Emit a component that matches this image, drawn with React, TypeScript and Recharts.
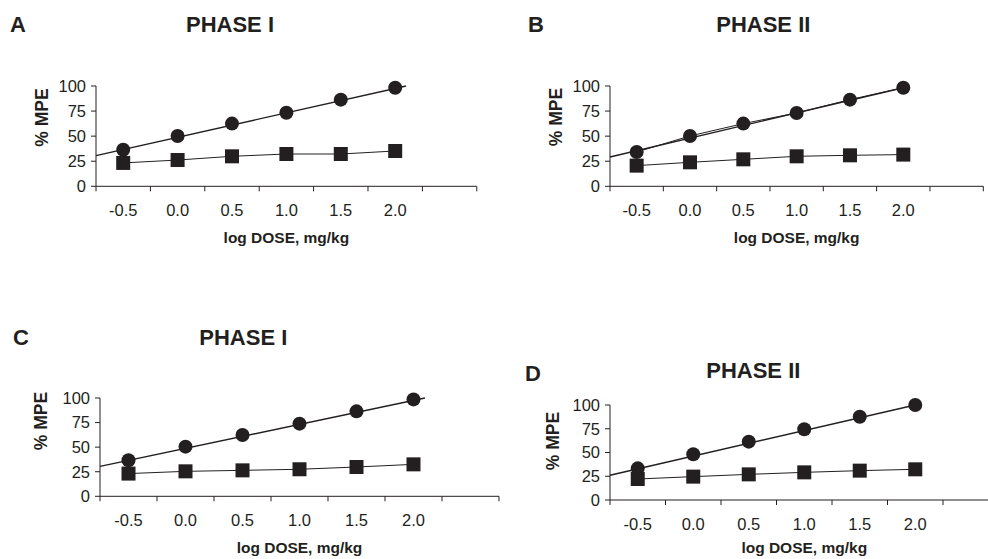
import React from 'react';
import { ComposedChart, Line, XAxis, YAxis } from 'recharts';

// ---- data ----
const doseLevels = [-0.5, 0.0, 0.5, 1.0, 1.5, 2.0];
const tickBounds = [-0.75, -0.25, 0.25, 0.75, 1.25, 1.75, 2.25, 2.75];
const mpeTicks = [0, 25, 50, 75, 100];

const panelLetters = ['A', 'B', 'C', 'D'];
const panelTitles = ['PHASE I', 'PHASE II', 'PHASE I', 'PHASE II'];

const circlesA = [36.5, 50.2, 62.5, 73.4, 86.4, 98.3];
const squaresA = [23.3, 26.2, 29.9, 32.2, 32.2, 35.2];
const fitXA = [-0.75, 2.1];
const fitYA = [30.6, 100];

const circlesB = [34.2, 50.2, 62.5, 73.1, 86.4, 98.3];
const squaresB = [20.6, 23.9, 26.9, 29.9, 30.9, 31.6];
const fitXB = [-0.75, 2.0];
const fitYB = [29.2, 98.3];

const circlesC = [36.6, 50.5, 62.4, 73.9, 86.4, 98.6];
const squaresC = [23.1, 25.4, 26.4, 27.5, 29.8, 32.5];
const fitXC = [-0.75, 2.1];
const fitYC = [30.5, 100];

const circlesD = [33.3, 48.1, 61.4, 74.4, 87.7, 100];
const squaresD = [22.1, 24.6, 27.0, 29.1, 30.9, 32.3];
const fitXD = [-0.75, 2.0];
const fitYD = [26.0, 100];

// ---- styling ----
const FONT = '"Liberation Sans", Arial, Helvetica, sans-serif';
const INK = '#231f20';

const xTickValues = [...tickBounds, ...doseLevels].sort((a, b) => a - b);

const toPoints = (xs: number[], ys: number[]) => xs.map((x, i) => ({ x, y: ys[i] }));

const XTick = (props: any) => {
  const { x, y, payload } = props;
  const v = payload.value as number;
  const isLabel = doseLevels.some((d) => Math.abs(d - v) < 1e-9);
  if (isLabel) {
    return (
      <text x={x} y={y + 29.5} textAnchor="middle" fontSize={16.5} fill={INK} fontFamily={FONT}>
        {v.toFixed(1)}
      </text>
    );
  }
  return <line x1={x} x2={x} y1={y} y2={y + 5} stroke={INK} strokeWidth={1} />;
};

const CircleDot = (p: any) =>
  p.cx == null ? null : <circle key={`c${p.index}`} cx={p.cx} cy={p.cy} r={7} fill={INK} />;
const SquareDot = (p: any) =>
  p.cx == null ? null : (
    <rect key={`s${p.index}`} x={p.cx - 7} y={p.cy - 7} width={14} height={14} fill={INK} />
  );

type Layout = { plotLeft: number; plotRight: number; plotTop: number; plotBottom: number; titleGap: number };

const layouts: Layout[] = [
  { plotLeft: 96, plotRight: 476.8, plotTop: 85.7, plotBottom: 186, titleGap: 57 },
  { plotLeft: 610, plotRight: 983.3, plotTop: 85.7, plotBottom: 186, titleGap: 57 },
  { plotLeft: 100, plotRight: 499, plotTop: 397.7, plotBottom: 496, titleGap: 57 },
  { plotLeft: 610, plotRight: 998.5, plotTop: 405, plotBottom: 500, titleGap: 53 },
];

const seriesSets = [
  { circles: circlesA, squares: squaresA, fx: fitXA, fy: fitYA, join: false },
  { circles: circlesB, squares: squaresB, fx: fitXB, fy: fitYB, join: true },
  { circles: circlesC, squares: squaresC, fx: fitXC, fy: fitYC, join: false },
  { circles: circlesD, squares: squaresD, fx: fitXD, fy: fitYD, join: false },
];

// text placements (layout only)
const letterPos = [
  { x: 10, y: 31.7 },
  { x: 528, y: 31.7 },
  { x: 13, y: 345 },
  { x: 525, y: 381 },
];
const titlePos = [
  { x: 230, y: 31.7 },
  { x: 763.3, y: 31.7 },
  { x: 243.3, y: 345 },
  { x: 753.3, y: 378 },
];
const yLabelPos = [
  { x: 41.7, y: 117.5 },
  { x: 555.5, y: 117 },
  { x: 41, y: 421 },
  { x: 552.5, y: 441 },
];

function Panel({ layout, set }: { layout: Layout; set: (typeof seriesSets)[number] }) {
  const yW = 60;
  const mt = 10;
  const mr = 2;
  const mb = 8;
  const W = layout.plotRight - layout.plotLeft + yW + mr;
  const H = mt + (layout.plotBottom - layout.plotTop) + layout.titleGap + mb;
  const fitData = toPoints(set.fx, set.fy);
  const circleData = toPoints(doseLevels, set.circles);
  const squareData = toPoints(doseLevels, set.squares);
  return (
    <div style={{ position: 'absolute', left: layout.plotLeft - yW, top: layout.plotTop - mt }}>
      <ComposedChart width={W} height={H} margin={{ top: mt, right: mr, bottom: mb, left: 0 }}>
        <XAxis
          type="number"
          dataKey="x"
          domain={[-0.75, 2.75]}
          ticks={xTickValues}
          interval={0}
          tick={(p: any) => <XTick {...p} />}
          tickLine={false}
          tickSize={0}
          tickMargin={0}
          height={layout.titleGap}
          stroke={INK}
          label={{
            value: 'log DOSE, mg/kg',
            position: 'insideBottom',
            offset: 0,
            fontSize: 15.5,
            fontWeight: 'bold',
            fill: INK,
            fontFamily: FONT,
          }}
        />
        <YAxis
          type="number"
          domain={[0, 100]}
          ticks={mpeTicks}
          interval={0}
          width={yW}
          tickSize={5}
          tickMargin={5}
          stroke={INK}
          tick={{ fontSize: 16.5, fill: INK, fontFamily: FONT }}
        />
        <Line
          data={fitData}
          dataKey="y"
          stroke={INK}
          strokeWidth={1.4}
          dot={false}
          activeDot={false}
          isAnimationActive={false}
        />
        <Line
          data={squareData}
          dataKey="y"
          stroke={INK}
          strokeWidth={1}
          dot={SquareDot}
          activeDot={false}
          isAnimationActive={false}
        />
        <Line
          data={circleData}
          dataKey="y"
          stroke={set.join ? INK : 'none'}
          strokeWidth={1}
          dot={CircleDot}
          activeDot={false}
          isAnimationActive={false}
        />
      </ComposedChart>
    </div>
  );
}

export default function App() {
  return (
    <div
      style={{
        position: 'absolute',
        left: 0,
        top: 0,
        width: 988,
        height: 559,
        overflow: 'hidden',
        background: '#fff',
      }}
    >
      {layouts.map((l, i) => (
        <Panel key={i} layout={l} set={seriesSets[i]} />
      ))}
      <svg
        width={988}
        height={559}
        style={{ position: 'absolute', left: 0, top: 0, pointerEvents: 'none' }}
      >
        {panelLetters.map((t, i) => (
          <text key={`l${i}`} x={letterPos[i].x} y={letterPos[i].y} fontSize={22} fontWeight="bold" fill={INK} fontFamily={FONT}>
            {t}
          </text>
        ))}
        {panelTitles.map((t, i) => (
          <text
            key={`t${i}`}
            x={titlePos[i].x}
            y={titlePos[i].y}
            textAnchor="middle"
            fontSize={22}
            fontWeight="bold"
            fill={INK}
            fontFamily={FONT}
          >
            {t}
          </text>
        ))}
        {yLabelPos.map((p, i) => (
          <text
            key={`y${i}`}
            x={p.x}
            y={p.y}
            transform={`rotate(-90 ${p.x} ${p.y})`}
            textAnchor="middle"
            dominantBaseline="central"
            fontSize={17.5}
            fontWeight="bold"
            fill={INK}
            fontFamily={FONT}
          >
            % MPE
          </text>
        ))}
      </svg>
    </div>
  );
}
